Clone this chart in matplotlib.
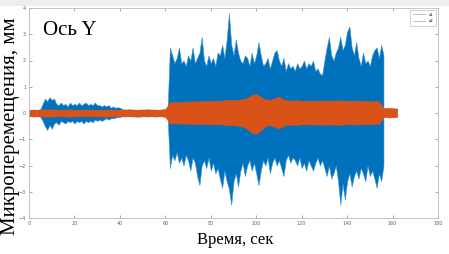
import numpy as np
import matplotlib
matplotlib.use("Agg")
import matplotlib.pyplot as plt
from matplotlib.patches import Rectangle
from matplotlib.lines import Line2D

# signal s1 (blue): peak values per second
t1 = np.arange(0, 157)
s1_up = [0.10, 0.10, 0.12, 0.10, 0.12, 0.15,
         0.35, 0.55, 0.45, 0.60, 0.50, 0.55, 0.35, 0.30, 0.40, 0.30,
         0.35, 0.25, 0.40, 0.30, 0.35, 0.30, 0.40, 0.30, 0.35, 0.40,
         0.30, 0.35, 0.30, 0.40, 0.30, 0.30, 0.25, 0.30, 0.25, 0.30,
         0.20, 0.25, 0.20, 0.22, 0.20, 0.15,
         0.12, 0.10, 0.13, 0.11, 0.12, 0.10, 0.12, 0.13, 0.11, 0.12,
         0.10, 0.12, 0.11, 0.13, 0.12, 0.10, 0.12, 0.11, 0.13, 0.12,
         2.5, 2.2, 1.9, 2.1, 2.5, 1.9, 2.0, 1.8, 2.2, 2.0,
         2.5, 1.9, 2.1, 2.3, 2.9, 2.0, 1.8, 2.2, 1.9, 2.1,
         1.8, 2.3, 2.2, 2.6, 2.1, 2.8, 3.8, 2.6, 2.2, 2.8,
         2.3, 2.0, 1.9, 2.2, 2.1, 1.8, 2.3, 1.9, 2.2, 2.7,
         2.2, 1.8, 1.9, 2.1, 1.7, 2.0, 2.3, 2.4, 2.0, 1.8,
         2.1, 1.6, 1.9, 1.7, 1.8, 1.6, 1.9, 1.7, 1.8, 2.0,
         1.7, 1.9, 1.8, 2.0, 1.6, 1.7, 1.5, 1.45, 2.0, 2.5,
         2.9, 2.2, 2.0, 2.3, 2.5, 2.9, 2.4, 2.6, 3.1, 3.3,
         2.5, 2.2, 2.7, 2.1, 1.8, 2.3, 1.9, 2.0, 1.8, 2.2,
         2.4, 2.5, 2.1, 2.6, 2.2]
s1_lo = [-0.10, -0.10, -0.12, -0.10, -0.12, -0.15,
         -0.30, -0.50, -0.65, -0.45, -0.60, -0.40, -0.35, -0.45, -0.30, -0.35,
         -0.40, -0.30, -0.35, -0.30, -0.40, -0.30, -0.35, -0.30, -0.40, -0.30,
         -0.35, -0.30, -0.35, -0.25, -0.30, -0.25, -0.30, -0.25, -0.20, -0.25,
         -0.20, -0.20, -0.18, -0.15, -0.15, -0.12,
         -0.12, -0.10, -0.13, -0.11, -0.12, -0.10, -0.12, -0.13, -0.11, -0.12,
         -0.10, -0.12, -0.11, -0.13, -0.12, -0.10, -0.12, -0.11, -0.13, -0.12,
         -2.1, -1.6, -1.8, -1.5, -1.9, -1.7, -2.0, -1.6, -1.8, -2.2,
         -1.7, -1.9, -2.4, -2.75, -2.0, -1.8, -2.1, -1.7, -2.2, -1.9,
         -2.3, -2.1, -2.5, -2.85, -2.2, -2.6, -2.9, -3.5, -2.6, -2.3,
         -2.8, -2.2, -1.9, -2.4, -2.0, -1.8, -2.2, -1.9, -2.3, -2.75,
         -2.2, -1.8, -2.0, -1.7, -2.3, -1.9, -1.7, -2.0, -1.8, -2.1,
         -2.4, -1.8, -1.6, -1.9, -1.7, -1.8, -2.0, -1.7, -2.1, -1.9,
         -2.2, -1.8, -2.0, -2.2, -1.9, -1.7, -2.0, -1.8, -2.1, -2.4,
         -2.0, -2.5, -2.3, -2.0, -2.6, -3.5, -2.7, -3.3, -2.6, -2.3,
         -2.8, -2.4, -2.2, -2.5, -2.1, -2.3, -2.6, -2.0, -2.4, -2.2,
         -2.5, -2.85, -2.3, -2.6, -2.0]

# signal s2 (orange): peak values every 2 s
t2 = np.arange(0, 163, 2)
s2_up = [0.12, 0.13, 0.12, 0.14, 0.13, 0.14, 0.13, 0.12, 0.13, 0.14,
         0.12, 0.13, 0.12, 0.13, 0.12, 0.12, 0.13, 0.12, 0.13, 0.12,
         0.12, 0.13, 0.14, 0.13, 0.12, 0.13, 0.14, 0.13, 0.12, 0.13,
         0.15,
         0.40, 0.42, 0.40, 0.44, 0.42, 0.45, 0.43, 0.46, 0.44, 0.45,
         0.47, 0.45, 0.48, 0.50, 0.48, 0.50, 0.52, 0.58, 0.68, 0.72,
         0.60, 0.52, 0.50, 0.55, 0.62, 0.52, 0.48, 0.47, 0.48, 0.46,
         0.47, 0.45, 0.47, 0.46, 0.48, 0.47, 0.46, 0.48, 0.47, 0.46,
         0.45, 0.47, 0.46, 0.45, 0.44, 0.45, 0.44,
         0.18, 0.20, 0.18, 0.17]
s2_lo = [-0.12, -0.13, -0.12, -0.13, -0.14, -0.13, -0.12, -0.13, -0.12, -0.14,
         -0.13, -0.12, -0.13, -0.12, -0.13, -0.12, -0.13, -0.14, -0.12, -0.13,
         -0.12, -0.13, -0.12, -0.13, -0.14, -0.12, -0.13, -0.12, -0.13, -0.12,
         -0.15,
         -0.38, -0.40, -0.39, -0.41, -0.40, -0.42, -0.40, -0.43, -0.41, -0.42,
         -0.44, -0.42, -0.45, -0.46, -0.45, -0.48, -0.52, -0.60, -0.75, -0.80,
         -0.65, -0.50, -0.46, -0.52, -0.58, -0.48, -0.45, -0.44, -0.45, -0.43,
         -0.44, -0.42, -0.44, -0.43, -0.45, -0.44, -0.43, -0.45, -0.44, -0.43,
         -0.42, -0.44, -0.43, -0.42, -0.41, -0.42, -0.41,
         -0.15, -0.17, -0.16, -0.15]

xticks = np.arange(0, 181, 20)
yticks = np.arange(-4, 5, 1)

blue = '#0072BD'
orange = '#D95319'

fig = plt.figure(figsize=(4.49, 2.54), dpi=100)
fig.patches.append(Rectangle((0, 1 - 6 / 254.), 1, 6 / 254., transform=fig.transFigure,
                             facecolor='#eeeeee', edgecolor='none', zorder=0))
ax = fig.add_axes([29 / 449., 1 - 218 / 254., 409 / 449., 210 / 254.])

# envelope band: peaks joined to peaks give the jagged edges
ax.fill_between(t1, s1_lo, s1_up, color=blue, lw=0.4, edgecolor='#3d93cf')
ax.fill_between(t2, s2_lo, s2_up, color=orange, lw=0.5, edgecolor=orange)

ax.set_xlim(0, 180)
ax.set_ylim(-4, 4)
ax.set_xticks(xticks)
ax.set_yticks(yticks)
ax.tick_params(labelsize=3.5, colors='#666666', direction='in', length=2, width=0.4,
               top=True, right=True, pad=2)
for sp in ax.spines.values():
    sp.set_color('#bbbbbb')
    sp.set_linewidth(0.6)

handles = [Line2D([], [], color='#aaaaaa', lw=0.5), Line2D([], [], color='#aaaaaa', lw=0.5)]
leg = ax.legend(handles, ['s1', 's2'], loc='upper right', fontsize=3, handlelength=3,
                frameon=True, fancybox=False, borderpad=0.6, labelspacing=0.6)
leg.get_frame().set_edgecolor('#999999')
leg.get_frame().set_linewidth(0.4)

ax.text(0.035, 0.87, 'Ось Y', transform=ax.transAxes, fontsize=15,
        family='Liberation Serif', color='black')
fig.text(11 / 449., 1 - 126 / 254., 'Микроперемещения, мм', rotation=90,
         ha='center', va='center', fontsize=15, family='Liberation Serif')
fig.text(235 / 449., 1 - 240 / 254., 'Время, сек', ha='center', va='center',
         fontsize=12, family='Liberation Serif')

fig.savefig('out.png', dpi=100)
